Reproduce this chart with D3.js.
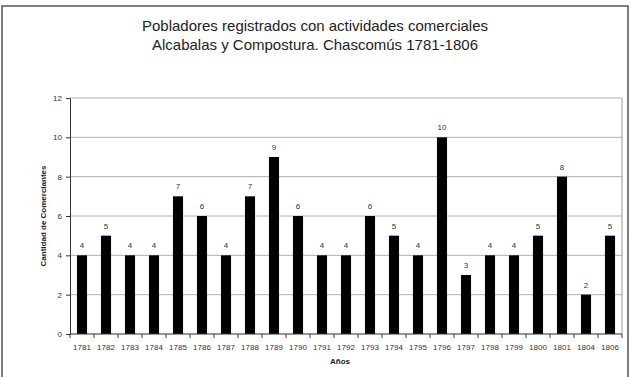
<!DOCTYPE html>
<html>
<head>
<meta charset="utf-8">
<script src="https://cdn.jsdelivr.net/npm/d3@7"></script>
<style>
body { margin:0; background:#fff; }
svg { display:block; font-family: "Liberation Sans", Arial, sans-serif; }
</style>
</head>
<body>
<svg id="chart" width="630" height="377"></svg>
<script>
const years = ["1781","1782","1783","1784","1785","1786","1787","1788","1789","1790","1791","1792","1793","1794","1795","1796","1797","1798","1799","1800","1801","1804","1806"];
const comerciantes = [4,5,4,4,7,6,4,7,9,6,4,4,6,5,4,10,3,4,4,5,8,2,5];
const yTicks = [0,2,4,6,8,10,12];
const titleLines = ["Pobladores registrados con actividades comerciales", "Alcabalas y Compostura. Chascomús 1781-1806"];

const svg = d3.select("#chart");
const W = 630, H = 377;
const m = {left:70, right:622, top:98, bottom:334};

// outer frame
svg.append("rect").attr("x",2).attr("y",6).attr("width",626).attr("height",380)
  .attr("fill","#fff").attr("stroke","#555").attr("stroke-width",1.5);

// title
svg.append("g").selectAll("text").data(titleLines).join("text")
  .attr("x",315).attr("y",(d,i)=>31+i*19)
  .attr("text-anchor","middle").attr("font-size",15).attr("fill","#222")
  .text(d=>d);

const x = d3.scaleBand().domain(years).range([m.left,m.right]).paddingInner(0.58).paddingOuter(0.29);
const y = d3.scaleLinear().domain([0,12]).range([m.bottom,m.top]);

// gridlines
svg.append("g").selectAll("line").data(yTicks.filter(t=>t>0)).join("line")
  .attr("x1",m.left).attr("x2",m.right).attr("y1",d=>y(d)).attr("y2",d=>y(d))
  .attr("stroke","#b0b0b0").attr("stroke-width",1);
// plot border right
svg.append("line").attr("x1",m.right).attr("x2",m.right).attr("y1",m.top).attr("y2",m.bottom)
  .attr("stroke","#999");

// bars
svg.append("g").selectAll("rect").data(years).join("rect")
  .attr("x",d=>x(d)).attr("width",x.bandwidth())
  .attr("y",(d,i)=>y(comerciantes[i])).attr("height",(d,i)=>y(0)-y(comerciantes[i]))
  .attr("fill","#000");

// value labels
svg.append("g").selectAll("text").data(years).join("text")
  .attr("x",d=>x(d)+x.bandwidth()/2).attr("y",(d,i)=>y(comerciantes[i])-7)
  .attr("text-anchor","middle").attr("font-size",8).attr("fill","#333")
  .text((d,i)=>comerciantes[i]);

// y axis
const yAxis = svg.append("g").attr("transform",`translate(${m.left},0)`)
  .call(d3.axisLeft(y).tickValues(yTicks).tickSize(4).tickPadding(4));
yAxis.select(".domain").attr("stroke","#333");
yAxis.selectAll(".tick line").attr("stroke","#333");
yAxis.selectAll("text").attr("font-size",8).attr("fill","#333").attr("font-family","Liberation Sans, Arial, sans-serif");

// x axis
const step = x.step();
const xAxis = svg.append("g").attr("transform",`translate(0,${m.bottom})`)
  .call(d3.axisBottom(x).tickSize(0).tickPadding(10).tickSizeOuter(0));
xAxis.select(".domain").attr("stroke","#333").attr("d",`M${m.left},0H${m.right}`);
xAxis.selectAll("text").attr("font-size",8).attr("fill","#333").attr("font-family","Liberation Sans, Arial, sans-serif");
// boundary ticks between categories
const bounds = d3.range(years.length+1).map(i=>m.left+i*(m.right-m.left)/years.length);
xAxis.append("g").selectAll("line").data(bounds).join("line")
  .attr("x1",d=>d).attr("x2",d=>d).attr("y1",0).attr("y2",4).attr("stroke","#333");

// axis titles
svg.append("text").attr("transform",`translate(46,${(m.top+m.bottom)/2}) rotate(-90)`)
  .attr("text-anchor","middle").attr("font-size",8).attr("font-weight","bold").attr("fill","#222")
  .text("Cantidad de Comerciantes");
svg.append("text").attr("x",340).attr("y",364).attr("text-anchor","middle")
  .attr("font-size",8).attr("font-weight","bold").attr("fill","#222").text("Años");
</script>
</body>
</html>
